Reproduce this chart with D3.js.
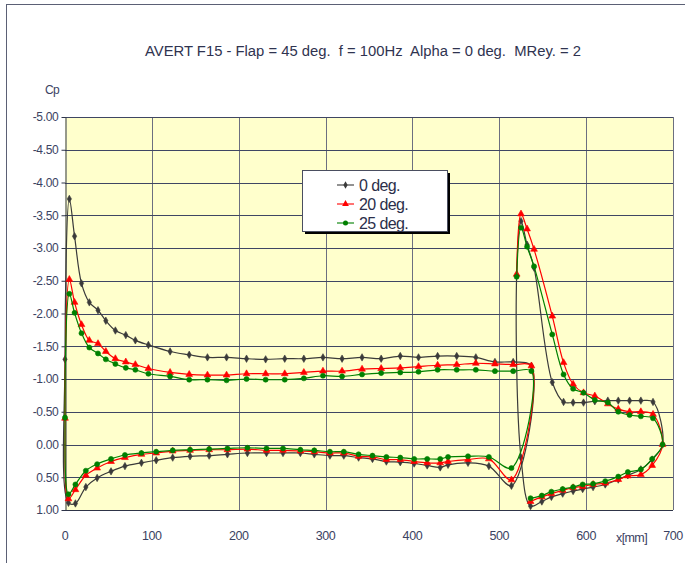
<!DOCTYPE html>
<html>
<head>
<meta charset="utf-8">
<script src="https://cdn.jsdelivr.net/npm/d3@7"></script>
<style>
  body { margin: 0; background: #ffffff; }
  text { font-family: "Liberation Sans", Arial, sans-serif; }
</style>
</head>
<body>
<svg id="chart" width="685" height="563"></svg>
<script>
// ---- Pressure tap stations (x in mm) ----
// main element: leading-edge tap first, then upper surface towards the trailing edge
const mainUpperX = [0, 5, 11, 19, 28, 38, 47, 58, 70, 81, 96, 121, 143, 164, 186, 209, 231, 253, 275, 297, 319, 342, 364, 386, 407, 429, 451, 473, 495, 516, 537];
// main element lower surface, leading edge to trailing edge
const mainLowerX = [4, 12, 24, 37, 53, 69, 88, 105, 124, 144, 166, 187, 210, 232, 251, 271, 287, 305, 321, 338, 354, 370, 386, 402, 417, 432, 441, 464, 488, 514];
// flap upper surface, flap leading edge to trailing edge
const flapUpperX = [520, 525, 532, 540, 561, 574, 585, 597, 610, 625, 637, 650, 663, 677, 688];
// flap lower surface, leading edge to trailing edge
const flapLowerX = [525, 536, 549, 560, 573, 585, 596, 608, 622, 637, 648, 663, 676];

// ---- Cp values, flap deflection 0 deg. ----
const cp0MainUpper = [-1.30, -3.75, -3.18, -2.46, -2.17, -2.05, -1.89, -1.74, -1.67, -1.59, -1.52, -1.42, -1.37, -1.33, -1.33, -1.31, -1.30, -1.31, -1.31, -1.33, -1.31, -1.33, -1.31, -1.35, -1.33, -1.35, -1.35, -1.33, -1.26, -1.26, -1.20];
const cp0MainLower = [0.89, 0.90, 0.65, 0.51, 0.41, 0.33, 0.28, 0.24, 0.20, 0.18, 0.17, 0.15, 0.13, 0.13, 0.13, 0.13, 0.15, 0.17, 0.17, 0.20, 0.22, 0.26, 0.27, 0.29, 0.32, 0.35, 0.31, 0.28, 0.33, 0.63];
const cp0FlapUpper = [-2.58, -3.41, -3.05, -2.70, -0.95, -0.65, -0.64, -0.64, -0.66, -0.67, -0.67, -0.67, -0.67, -0.65, 0.00];
const cp0FlapLower = [0.20, 0.94, 0.87, 0.80, 0.75, 0.71, 0.68, 0.65, 0.61, 0.535, 0.47, 0.38, 0.23];

// ---- Cp values, 20 deg. ----
const cp20MainUpper = [-0.40, -2.52, -2.17, -1.83, -1.59, -1.54, -1.42, -1.31, -1.26, -1.22, -1.16, -1.10, -1.07, -1.06, -1.06, -1.08, -1.08, -1.08, -1.10, -1.12, -1.12, -1.15, -1.16, -1.17, -1.19, -1.21, -1.22, -1.24, -1.23, -1.22, -1.20];
const cp20MainLower = [0.83, 0.69, 0.47, 0.36, 0.26, 0.20, 0.15, 0.13, 0.10, 0.09, 0.08, 0.08, 0.07, 0.09, 0.09, 0.10, 0.11, 0.13, 0.13, 0.18, 0.19, 0.23, 0.23, 0.26, 0.28, 0.28, 0.26, 0.23, 0.22, 0.54];
const cp20FlapUpper = [-2.60, -3.52, -3.29, -2.98, -1.96, -1.25, -0.92, -0.79, -0.74, -0.62, -0.54, -0.50, -0.50, -0.46, 0.00];
const cp20FlapLower = [null, 0.87, 0.80, 0.75, 0.70, 0.66, 0.64, 0.61, 0.59, 0.535, 0.48, 0.46, 0.32];

// ---- Cp values, 25 deg. ----
const cp25MainUpper = [-0.41, -2.30, -2.01, -1.70, -1.48, -1.39, -1.30, -1.23, -1.17, -1.14, -1.08, -1.04, -0.99, -0.99, -0.98, -1.00, -0.99, -0.99, -1.01, -1.05, -1.04, -1.07, -1.09, -1.10, -1.11, -1.14, -1.14, -1.14, -1.12, -1.12, -1.12];
const cp25MainLower = [0.76, 0.61, 0.40, 0.30, 0.22, 0.16, 0.13, 0.11, 0.09, 0.08, 0.07, 0.06, 0.05, 0.06, 0.06, 0.08, 0.09, 0.11, 0.11, 0.15, 0.17, 0.19, 0.20, 0.22, 0.22, 0.22, 0.19, 0.18, 0.19, 0.36];
const cp25FlapUpper = [-2.56, -3.31, -3.02, -2.72, -1.68, -1.07, -0.85, -0.79, -0.68, -0.64, -0.50, -0.45, -0.43, -0.40, 0.00];
const cp25FlapLower = [null, 0.82, 0.78, 0.72, 0.68, 0.65, 0.61, 0.60, 0.56, 0.49, 0.42, 0.38, 0.22];

// ---- Labels ----
const seriesNames = ["0 deg.", "20 deg.", "25 deg."];
const yTickValues = [-5, -4.5, -4, -3.5, -3, -2.5, -2, -1.5, -1, -0.5, 0, 0.5, 1];
const yTickLabels = ["-5.00", "-4.50", "-4.00", "-3.50", "-3.00", "-2.50", "-2.00", "-1.50", "-1.00", "-0.50", "0.00", "0.50", "1.00"];
const xTickValues = [0, 100, 200, 300, 400, 500, 600, 700];
const xTickLabels = ["0", "100", "200", "300", "400", "500", "600", "700"];
const titleText = "AVERT F15 - Flap = 45 deg.  f = 100Hz  Alpha = 0 deg.  MRey. = 2";

const series = [
  { name: seriesNames[0], mainU: cp0MainUpper, mainL: cp0MainLower, flapU: cp0FlapUpper, flapL: cp0FlapLower,
    color: "#3a3a3a", symbol: d3.symbolDiamond, size: 16 },
  { name: seriesNames[1], mainU: cp20MainUpper, mainL: cp20MainLower, flapU: cp20FlapUpper, flapL: cp20FlapLower,
    color: "#ff0000", symbol: d3.symbolTriangle, size: 20 },
  { name: seriesNames[2], mainU: cp25MainUpper, mainL: cp25MainLower, flapU: cp25FlapUpper, flapL: cp25FlapLower,
    color: "#008000", symbol: d3.symbolCircle, size: 20 }
];

// ---- Layout ----
const svg = d3.select("#chart");
const plot = { left: 65, right: 673, top: 117, bottom: 510 };
const x = d3.scaleLinear().domain([0, 700]).range([plot.left, plot.right]);
const y = d3.scaleLinear().domain([-5, 1]).range([plot.top, plot.bottom]);

// outer chart frame
svg.append("rect")
  .attr("x", 6.5).attr("y", 4.5).attr("width", 700).attr("height", 600)
  .attr("fill", "#ffffff").attr("stroke", "#5b6075").attr("stroke-width", 1);

// title
svg.append("text")
  .attr("x", 145).attr("y", 55.5)
  .attr("textLength", 436).attr("lengthAdjust", "spacingAndGlyphs")
  .attr("font-size", 15.5).attr("fill", "#2f3350")
  .style("white-space", "pre")
  .text(titleText);

// plot background
svg.append("rect")
  .attr("x", plot.left).attr("y", plot.top)
  .attr("width", plot.right - plot.left).attr("height", plot.bottom - plot.top)
  .attr("fill", "#ffffcc");

// vertical grid
svg.append("g").selectAll("line")
  .data(xTickValues.filter(v => v > 0))
  .join("line")
  .attr("x1", d => Math.round(x(d)) + 0.5).attr("x2", d => Math.round(x(d)) + 0.5)
  .attr("y1", plot.top).attr("y2", plot.bottom)
  .attr("stroke", "#6c6f80").attr("stroke-width", 1);

// horizontal grid
svg.append("g").selectAll("line")
  .data(yTickValues)
  .join("line")
  .attr("x1", plot.left).attr("x2", plot.right)
  .attr("y1", d => Math.round(y(d)) + 0.5).attr("y2", d => Math.round(y(d)) + 0.5)
  .attr("stroke", "#3f4663").attr("stroke-width", 1);

// y axis
const yAxis = d3.axisLeft(y)
  .tickValues(yTickValues)
  .tickFormat((d, i) => yTickLabels[i])
  .tickSize(4).tickSizeOuter(0);
const gy = svg.append("g")
  .attr("transform", `translate(${plot.left + 0.5},0)`)
  .call(yAxis);
gy.select(".domain").attr("stroke", "#2e3448");
gy.selectAll(".tick line").attr("stroke", "#2e3448");
gy.selectAll(".tick text")
  .attr("font-family", "Liberation Sans, Arial, sans-serif")
  .attr("font-size", 12).attr("fill", "#3b4262").attr("x", -7)
  .attr("letter-spacing", "-0.3");

// x axis baseline and labels
svg.append("line")
  .attr("x1", plot.left).attr("x2", plot.right)
  .attr("y1", plot.bottom + 0.5).attr("y2", plot.bottom + 0.5)
  .attr("stroke", "#2e3448");
svg.append("g").selectAll("text")
  .data(xTickValues)
  .join("text")
  .attr("x", d => x(d)).attr("y", 540)
  .attr("text-anchor", "middle")
  .attr("font-size", 12.5).attr("fill", "#3b4262").attr("letter-spacing", "-0.4")
  .text((d, i) => xTickLabels[i]);

// axis titles
svg.append("text").attr("x", 45).attr("y", 94)
  .attr("font-size", 12).attr("fill", "#3b4262").attr("letter-spacing", "-0.6").text("Cp");
svg.append("text").attr("x", 616).attr("y", 542)
  .attr("font-size", 12.5).attr("fill", "#3b4262").attr("letter-spacing", "-0.6").text("x[mm]");

// ---- Curves ----
function loop(ux, uy, lx, ly) {
  const pts = ux.map((v, i) => [v, uy[i]]);
  for (let i = lx.length - 1; i >= 0; i--) pts.push([lx[i], ly[i]]);
  return pts;
}

const lineClosed = d3.line().x(d => x(d[0])).y(d => y(d[1])).curve(d3.curveCatmullRomClosed.alpha(0.5));
const lineOpen = d3.line().x(d => x(d[0])).y(d => y(d[1])).curve(d3.curveCatmullRom.alpha(0.5));

const gSeries = svg.append("g");
series.forEach(s => {
  const g = gSeries.append("g");
  const parts = [
    loop(mainUpperX, s.mainU, mainLowerX, s.mainL),
    loop(flapUpperX, s.flapU, flapLowerX, s.flapL)
  ];
  parts.forEach(pts => {
    const hasGap = pts.some(p => p[1] == null);
    const valid = pts.filter(p => p[1] != null);
    g.append("path")
      .attr("d", (hasGap ? lineOpen : lineClosed)(valid))
      .attr("fill", "none").attr("stroke", s.color).attr("stroke-width", 1.2);
    g.append("g").selectAll("path")
      .data(valid)
      .join("path")
      .attr("transform", d => `translate(${x(d[0])},${y(d[1])})`)
      .attr("d", d3.symbol(s.symbol, s.size))
      .attr("fill", s.color).attr("stroke", s.color).attr("stroke-width", 0.6);
  });
});

// ---- Legend ----
const lg = svg.append("g");
lg.append("rect").attr("x", 305).attr("y", 173).attr("width", 145).attr("height", 61).attr("fill", "#000");
lg.append("rect").attr("x", 302.5).attr("y", 170.5).attr("width", 145).attr("height", 61)
  .attr("fill", "#ffffff").attr("stroke", "#4a4e60").attr("stroke-width", 1);
series.forEach((s, i) => {
  const cy = 185 + i * 19;
  lg.append("line").attr("x1", 337).attr("x2", 354).attr("y1", cy).attr("y2", cy)
    .attr("stroke", s.color).attr("stroke-width", 1.1);
  lg.append("path").attr("transform", `translate(345.5,${cy})`)
    .attr("d", d3.symbol(s.symbol, s.size)).attr("fill", s.color);
  lg.append("text").attr("x", 359).attr("y", cy + 6)
    .attr("font-size", 16).attr("fill", "#2b2f4a").attr("letter-spacing", "-0.6")
    .text(s.name);
});
</script>
</body>
</html>
